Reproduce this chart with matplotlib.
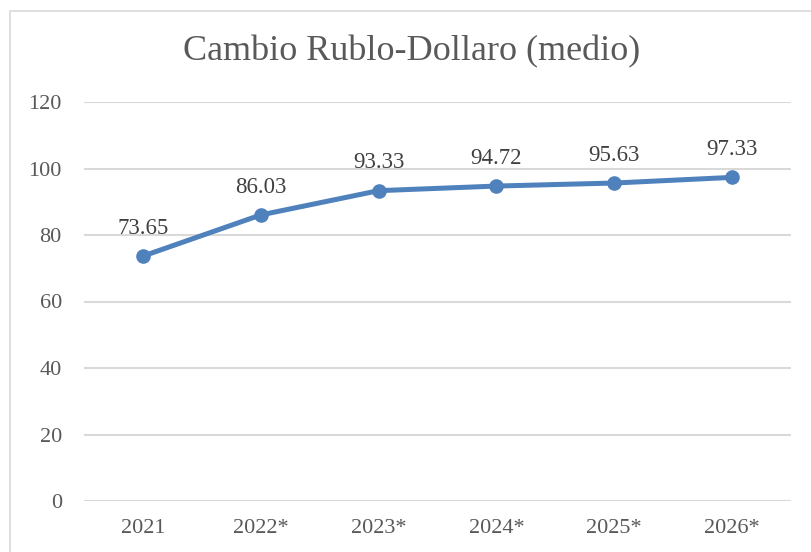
import matplotlib
matplotlib.use("Agg")
import matplotlib.pyplot as plt
from matplotlib.patches import Rectangle

categories = ["2021", "2022*", "2023*", "2024*", "2025*", "2026*"]
values = [73.65, 86.03, 93.33, 94.72, 95.63, 97.33]
yticks = [0, 20, 40, 60, 80, 100, 120]
title = "Cambio Rublo-Dollaro (medio)"

W, H = 811, 552
fig = plt.figure(figsize=(W / 100, H / 100), dpi=100)
fig.patch.set_facecolor("white")

# chart border (cropped at right/bottom)
fig.add_artist(Rectangle((10 / W, -0.05), 1.1, (H - 11) / H + 0.05,
                         transform=fig.transFigure, fill=False,
                         edgecolor="#D9D9D9", linewidth=1.2))

left, right, top, bottom = 84, 791, 102, 501
ax = fig.add_axes([left / W, (H - bottom) / H, (right - left) / W, (bottom - top) / H])

font = "Liberation Serif"
text_color = "#595959"
x = list(range(len(categories)))
ax.plot(x, values, color="#4F81BD", linewidth=3.6, marker="o", markersize=9.5,
        solid_capstyle="round", zorder=3, clip_on=False)
for xi, v in zip(x, values):
    ax.annotate(f"{v:.2f}", (xi, v), xytext=(0, 20), textcoords="offset points",
                ha="center", va="center", fontsize=16.5, family=font, color="#404040")

ax.set_xlim(-0.5, len(categories) - 0.5)
ax.set_ylim(0, 120)
ax.set_yticks(yticks)
ax.set_yticklabels([str(t) for t in yticks], family=font, fontsize=16, color=text_color)
ax.set_xticks(x)
ax.set_xticklabels(categories, family=font, fontsize=16, color=text_color)
ax.tick_params(axis="both", length=0)
ax.tick_params(axis="y", pad=16)
ax.tick_params(axis="x", pad=13)
ax.grid(axis="y", color="#D9D9D9", linewidth=1.5)
ax.set_axisbelow(True)
for s in ax.spines.values():
    s.set_visible(False)

fig.text(412 / W, 1 - 52 / H, title, ha="center", va="center",
         fontsize=26, family=font, color=text_color)

fig.savefig("out.png", dpi=100)
